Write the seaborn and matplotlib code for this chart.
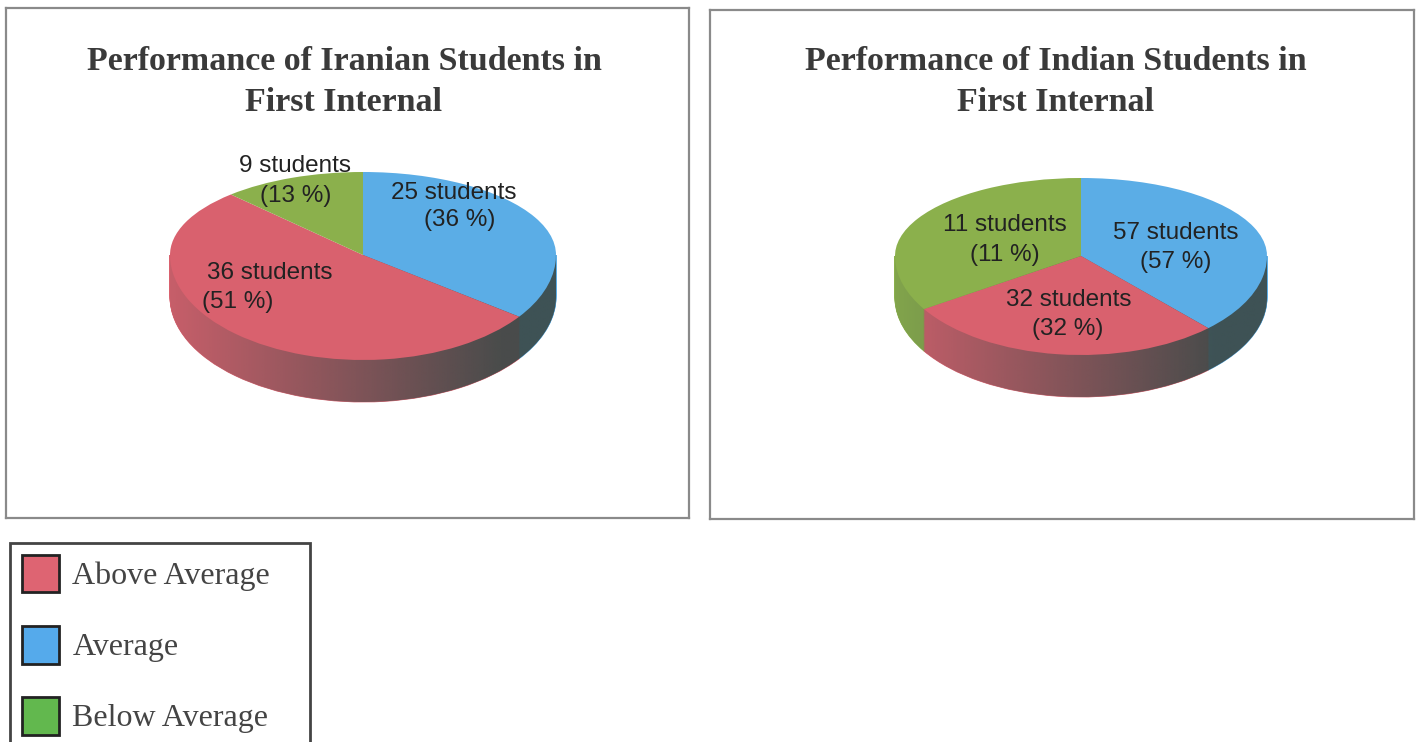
import numpy as np
import matplotlib
matplotlib.use("Agg")
import matplotlib.pyplot as plt
from matplotlib.patches import Patch
from matplotlib.path import Path
from matplotlib.colors import to_rgb
import seaborn as sns

# ---------- data ----------
categories = ["Average", "Above Average", "Below Average"]
legend_order = ["Above Average", "Average", "Below Average"]
iranian_students = [25, 36, 9]
iranian_percent = [36, 51, 13]
iranian_slices = [35, 53, 12]      # slice sizes as drawn in the picture
indian_students = [57, 32, 11]
indian_percent = [57, 32, 11]
indian_slices = [38, 28, 34]       # slice sizes as drawn in the picture
iranian_title = "Performance of Iranian Students in\nFirst Internal"
indian_title = "Performance of Indian Students in\nFirst Internal"

# ---------- style ----------
W, H = 1421, 742
sns.set_theme(style="white")
plt.rcParams["font.family"] = ["Liberation Sans", "DejaVu Sans"]
pie_palette = sns.color_palette(["#5BADE6", "#D9616E", "#8BB04C"])
legend_palette = dict(zip(legend_order, sns.color_palette(["#DE6472", "#55AAEB", "#62B84E"])))
FRAME = "#8a8a8a"
TEXT = "#222222"
SERIF = "Liberation Serif"

fig = plt.figure(figsize=(W / 100, H / 100), dpi=100, facecolor="white")


def px_axes(x0, y0, x1, y1):
    return fig.add_axes([x0 / W, 1 - y1 / H, (x1 - x0) / W, (y1 - y0) / H])


def px_text(x, y, s, **kw):
    fig.text(x / W, 1 - y / H, s, **kw)


def panel(x0, y0, x1, y1):
    ax = px_axes(x0, y0, x1, y1)
    ax.set_xticks([])
    ax.set_yticks([])
    for sp in ax.spines.values():
        sp.set_color(FRAME)
        sp.set_linewidth(1.6)
    return ax


def disc(slices, cx, cy, rx, ry_top, ry_bot, depth):
    pad = 1.01
    d = depth / ry_bot
    # the far half of the top face
    top = px_axes(cx - rx * pad, cy - ry_top * pad, cx + rx * pad, cy)
    wedges, _ = top.pie(slices, colors=pie_palette, startangle=90, counterclock=False,
                        wedgeprops=dict(linewidth=0))
    for w in wedges:
        w.set_clip_on(True)
    top.set_aspect("auto")
    top.set_xlim(-pad, pad)
    top.set_ylim(0, pad)

    # the near half with the extruded side
    low = px_axes(cx - rx * pad, cy, cx + rx * pad, cy + (1 + d + 0.02) * ry_bot)
    for off in np.linspace(d, 0, 50):
        wedges, _ = low.pie(slices, colors=pie_palette, startangle=90, counterclock=False,
                            center=(0, -off), wedgeprops=dict(linewidth=0.6))
        for w in wedges:
            w.set_edgecolor(w.get_facecolor())
            w.set_zorder(1)
            w.set_clip_on(True)
    wedges, _ = low.pie(slices, colors=pie_palette, startangle=90, counterclock=False,
                        wedgeprops=dict(linewidth=0))
    for w in wedges:
        w.set_zorder(3)
        w.set_clip_on(True)

    # side shading: fades into a dark grey towards the right
    t = np.linspace(np.pi, 2 * np.pi, 200)
    verts = np.column_stack([np.cos(t), np.sin(t) - d])
    verts = np.vstack([[-1, 0], verts, [1, 0], [-1, 0]])
    clip = Path(verts, closed=True)
    grad = np.zeros((2, 256, 4))
    grad[..., :3] = to_rgb("#3c4a48")
    ramp = np.clip(np.linspace(0.12, 1.05, 256), 0, 0.92)
    grad[..., 3] = ramp
    im = low.imshow(grad, extent=(-1, 1, -1 - d, 0), aspect="auto", zorder=2,
                    interpolation="bilinear")
    im.set_clip_path(clip, transform=low.transData)
    low.set_aspect("auto")
    low.set_xlim(-pad, pad)
    low.set_ylim(-(1 + d + 0.02), 0)
    low.axis("off")
    top.axis("off")


# ---------- left panel ----------
panel(6, 8, 689, 518)
px_text(344, 82, iranian_title, ha="center", va="center", family=SERIF,
        fontweight="bold", fontsize=24.5, color="#3a3a3a", linespacing=1.38)
disc(iranian_slices, 363, 255, 193, 83, 105, 42)

label_kw = dict(ha="center", va="center", fontsize=17.5, color=TEXT)
px_text(295, 166, f"{iranian_students[2]} students", **label_kw)
px_text(296, 196, f"({iranian_percent[2]} %)", **label_kw)
px_text(454, 193, f"{iranian_students[0]} students", **label_kw)
px_text(460, 220, f"({iranian_percent[0]} %)", **label_kw)
px_text(270, 273, f"{iranian_students[1]} students", **label_kw)
px_text(238, 302, f"({iranian_percent[1]} %)", **label_kw)

# ---------- right panel ----------
panel(710, 10, 1414, 519)
px_text(1056, 82, indian_title, ha="center", va="center", family=SERIF,
        fontweight="bold", fontsize=24.5, color="#3a3a3a", linespacing=1.38)
disc(indian_slices, 1081, 256, 186, 78, 99, 42)

px_text(1005, 225, f"{indian_students[2]} students", **label_kw)
px_text(1005, 255, f"({indian_percent[2]} %)", **label_kw)
px_text(1176, 233, f"{indian_students[0]} students", **label_kw)
px_text(1176, 262, f"({indian_percent[0]} %)", **label_kw)
px_text(1069, 300, f"{indian_students[1]} students", **label_kw)
px_text(1068, 329, f"({indian_percent[1]} %)", **label_kw)

# ---------- legend ----------
handles = [Patch(facecolor=legend_palette[c], edgecolor="#222222", linewidth=2, label=c)
           for c in legend_order]
leg = fig.legend(handles=handles, loc="upper left",
                 bbox_to_anchor=(10 / W, 1 - 770 / H, 300 / W, 227 / H),
                 bbox_transform=fig.transFigure, mode="expand", ncols=1,
                 prop=dict(family=SERIF, size=23), labelcolor="#444444",
                 handlelength=1.17, handleheight=1.45, handletextpad=0.42,
                 labelspacing=1.04, borderpad=0.36, borderaxespad=0,
                 frameon=True, fancybox=False, framealpha=1, edgecolor="#444444")
leg.get_frame().set_linewidth(2)

fig.savefig("out.png", dpi=100)
